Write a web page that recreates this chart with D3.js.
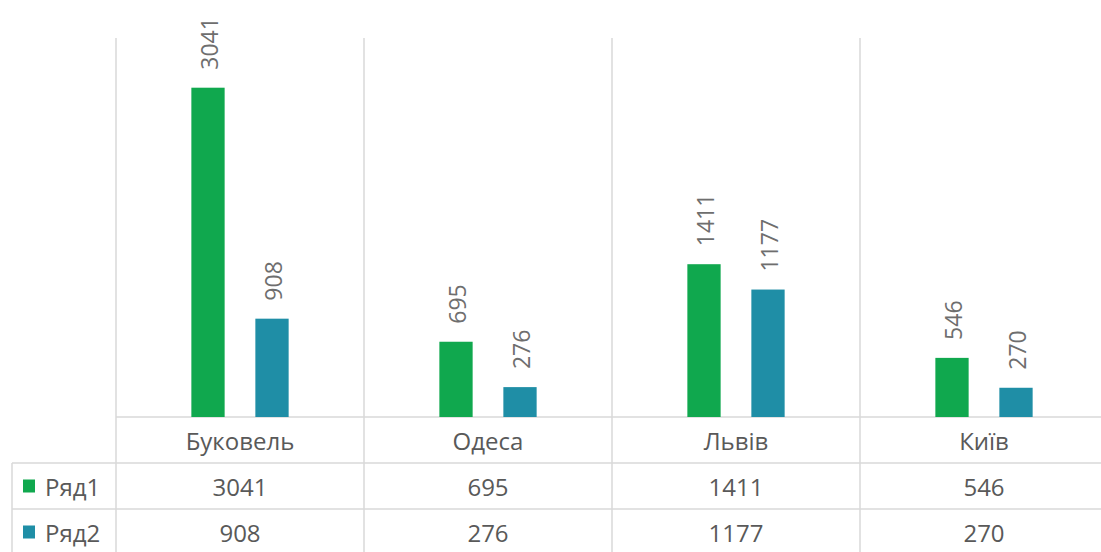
<!DOCTYPE html>
<html>
<head>
<meta charset="utf-8">
<script src="https://cdn.jsdelivr.net/npm/d3@7"></script>
<style>
  html, body { margin: 0; padding: 0; background: #fff; }
  svg { display: block; }
  text { font-family: "Open Sans", "DejaVu Sans", sans-serif; }
</style>
</head>
<body>
<svg id="chart" width="1101" height="552"></svg>
<script>
const categories = ["Буковель", "Одеса", "Львів", "Київ"];
const seriesNames = ["Ряд1", "Ряд2"];
const ryad1 = [3041, 695, 1411, 546];
const ryad2 = [908, 276, 1177, 270];
const seriesValues = [ryad1, ryad2];
const seriesColors = ["#10A84E", "#1F8EA6"];
const yMax = 3500;

const W = 1101, H = 552;
const plotLeft = 116, plotRight = 1108, plotTop = 38, plotBottom = 417;
const tableLeft = 12, rowH = 46;

const svg = d3.select("#chart");
const gridColor = "#d9d9d9";
const textColor = "#595959";

const x0 = d3.scaleBand().domain(categories).range([plotLeft, plotRight]).padding(0);
const bw = x0.bandwidth();
const x1 = d3.scaleBand().domain(seriesNames)
  .range([bw / 2 - 64, bw / 2 + 64]).paddingInner(0.48).paddingOuter(0.24);
const y = d3.scaleLinear().domain([0, yMax]).range([plotBottom, plotTop]);

// vertical separators (category boundaries), through plot and table
const bounds = categories.map(c => x0(c)).concat([x0(categories[categories.length - 1]) + bw]);
svg.append("g").selectAll("line").data(bounds).join("line")
  .attr("x1", d => d).attr("x2", d => d)
  .attr("y1", plotTop).attr("y2", H)
  .attr("stroke", gridColor).attr("stroke-width", 1.5);

// table left border
svg.append("line")
  .attr("x1", tableLeft).attr("x2", tableLeft)
  .attr("y1", plotBottom + rowH).attr("y2", H)
  .attr("stroke", gridColor).attr("stroke-width", 1.5);

// horizontal lines
const hLines = [
  { y: plotBottom, x1: plotLeft },
  { y: plotBottom + rowH, x1: tableLeft },
  { y: plotBottom + 2 * rowH, x1: tableLeft },
  { y: plotBottom + 3 * rowH, x1: tableLeft }
];
svg.append("g").selectAll("line").data(hLines).join("line")
  .attr("x1", d => d.x1).attr("x2", W)
  .attr("y1", d => d.y).attr("y2", d => d.y)
  .attr("stroke", gridColor).attr("stroke-width", 1.5);

// bars
const rows = categories.map((c, i) => ({ cat: c, vals: seriesNames.map((s, j) => ({ s, j, v: seriesValues[j][i] })) }));
const groups = svg.append("g").selectAll("g").data(rows).join("g")
  .attr("transform", d => `translate(${x0(d.cat)},0)`);

groups.selectAll("rect").data(d => d.vals).join("rect")
  .attr("x", d => x1(d.s))
  .attr("y", d => y(d.v))
  .attr("width", x1.bandwidth())
  .attr("height", d => plotBottom - y(d.v))
  .attr("fill", d => seriesColors[d.j]);

// rotated value labels
groups.selectAll("text.lbl").data(d => d.vals).join("text")
  .attr("class", "lbl")
  .attr("transform", d => `translate(${x1(d.s) + x1.bandwidth() / 2 + 1},${y(d.v) - 18}) rotate(-90)`)
  .attr("text-anchor", "start")
  .attr("dominant-baseline", "central")
  .attr("font-size", 23)
  .attr("fill", "#6e6e6e")
  .text(d => d.v);

// category labels
svg.append("g").selectAll("text").data(categories).join("text")
  .attr("x", d => x0(d) + bw / 2)
  .attr("y", plotBottom + rowH / 2)
  .attr("text-anchor", "middle")
  .attr("dominant-baseline", "central")
  .attr("font-size", 24)
  .attr("fill", textColor)
  .text(d => d);

// data table rows
seriesNames.forEach((s, j) => {
  const cy = plotBottom + rowH * (j + 1) + rowH / 2;
  svg.append("rect")
    .attr("x", 23).attr("y", cy - 6.5)
    .attr("width", 12).attr("height", 13)
    .attr("fill", seriesColors[j]);
  svg.append("text")
    .attr("x", 45).attr("y", cy)
    .attr("dominant-baseline", "central")
    .attr("font-size", 24)
    .attr("fill", textColor)
    .text(s);
  svg.append("g").selectAll("text").data(categories).join("text")
    .attr("x", (d) => x0(d) + bw / 2)
    .attr("y", cy)
    .attr("text-anchor", "middle")
    .attr("dominant-baseline", "central")
    .attr("font-size", 24)
    .attr("fill", textColor)
    .text((d, i) => seriesValues[j][i]);
});
</script>
</body>
</html>
